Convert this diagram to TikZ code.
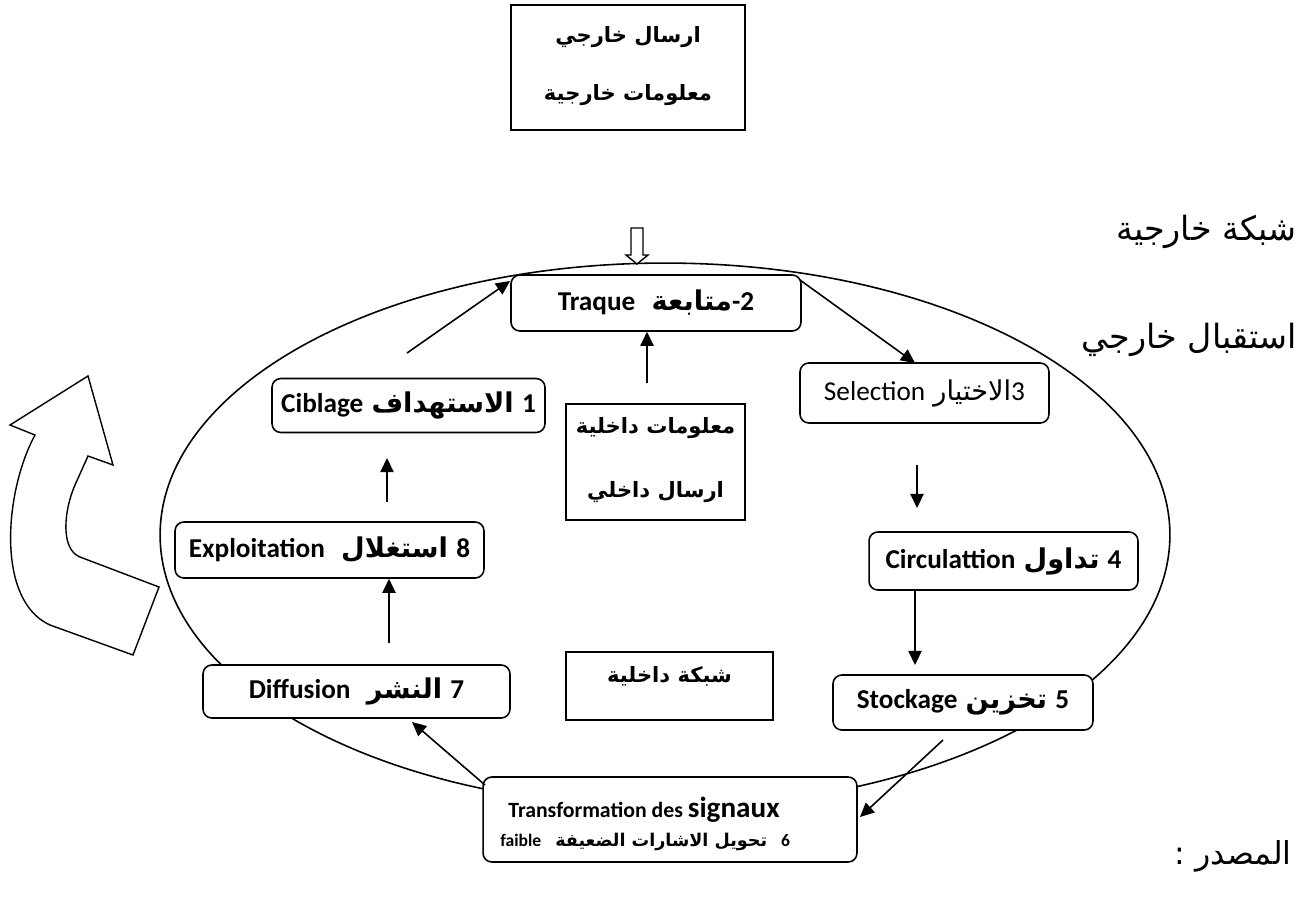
\documentclass[tikz,border=0pt]{standalone}
\usepackage{fontspec}
\usetikzlibrary{arrows.meta}
\TeXXeTstate=1
\newfontfamily\arabicfont[Script=Arabic]{DejaVu Sans}
\newfontfamily\calfont{Carlito}
\newcommand\arr[1]{{\arabicfont\beginR #1\endR}}
\newcommand\arb[1]{{\arabicfont\bfseries\beginR #1\endR}}
\newcommand\lb[1]{{\calfont\bfseries #1}}
\tikzset{
  sbox/.style={draw, line width=1.1pt, fill=white, inner sep=0pt},
  rbox/.style={draw, line width=0.9pt, rounded corners=5pt, fill=white, inner sep=0pt},
  boxtext/.style={inner sep=0pt, font=\fontsize{15.5}{18}\selectfont},
  artext/.style={inner sep=0pt, font=\fontsize{12}{14}\selectfont},
  outer/.style={inner sep=0pt, anchor=east, font=\fontsize{19}{22}\selectfont},
  conn/.style={line width=0.9pt, -{Triangle[length=8pt,width=7.5pt]}},
}
\begin{document}
\begin{tikzpicture}[x=0.02cm,y=-0.02cm]
\useasboundingbox (0,0) rectangle (1314,907);
\fill[white] (0,0) rectangle (1314,907);

% outer network
\draw[line width=0.9pt] (665,535) ellipse [x radius=10.1cm, y radius=5.44cm];

% external sending box
\node[sbox, minimum width=4.68cm, minimum height=2.5cm] (ext) at (628,67.5) {};
\node[artext] (extA) at (628,37) {\arb{ارسال خارجي}};
\node[artext] (extB) at (628,95) {\arb{معلومات خارجية}};

% hollow input arrow
\draw[line width=0.8pt, fill=white] (631,228) -- (643,228) -- (643,255) -- (648,255)
  -- (637,264) -- (626,255) -- (631,255) -- cycle;

% side labels
\node[outer] (extnet) at (1297,232) {\arr{شبكة خارجية}};
\node[outer] (extrec) at (1297,340) {\arr{استقبال خارجي}};
\node[outer, font=\fontsize{18}{21}\selectfont] (src) at (1292,856) {\arr{المصدر :}};

% curved feedback arrow
\draw[line width=0.8pt] (88,376) -- (10,425) -- (35,435)
  .. controls (5,490) and (-5,600) .. (50,625) -- (133,655) -- (159,587) -- (80,557)
  .. controls (60,549) and (64,510) .. (75,485) -- (88,456) -- (113,465) -- cycle;

% cycle steps
\node[rbox, minimum width=5.8cm, minimum height=1.12cm, boxtext] (n2) at (656,303)
  {\lb{Traque}\hspace{0.6em}\arb{متابعة}\lb{-2}};
\node[rbox, minimum width=4.98cm, minimum height=1.2cm, boxtext] (n3) at (924.5,393)
  {{\calfont Selection} \arr{الاختيار}{\calfont 3}};
\node[rbox, minimum width=5.46cm, minimum height=1.08cm, boxtext] (n1) at (408.5,405.5)
  {\lb{Ciblage} \arb{الاستهداف} \lb{1}};
\node[sbox, minimum width=3.58cm, minimum height=2.32cm] (inb) at (655.5,462) {};
\node[artext] (inbA) at (655.5,428) {\arb{معلومات داخلية}};
\node[artext] (inbB) at (655.5,492) {\arb{ارسال داخلي}};
\node[rbox, minimum width=6.18cm, minimum height=1.12cm, boxtext] (n8) at (329.5,550)
  {\lb{Exploitation}\hspace{0.6em}\arb{استغلال} \lb{8}};
\node[rbox, minimum width=5.38cm, minimum height=1.16cm, boxtext] (n4) at (1003.5,561)
  {\lb{Circulattion} \arb{تداول} \lb{4}};
\node[rbox, minimum width=6.14cm, minimum height=1.06cm, boxtext] (n7) at (356.5,691.5)
  {\lb{Diffusion}\hspace{0.6em}\arb{النشر} \lb{7}};
\node[sbox, minimum width=4.14cm, minimum height=1.36cm] (innet) at (669.5,686) {};
\node[artext] (innetA) at (669.5,676) {\arb{شبكة داخلية}};
\node[rbox, minimum width=5.2cm, minimum height=1.1cm, boxtext] (n5) at (963,702.5)
  {\lb{Stockage} \arb{تخزين} \lb{5}};
\node[rbox, minimum width=7.48cm, minimum height=1.7cm] (n6) at (670,819.5) {};
\node[inner sep=0pt, anchor=west] (n6a) at (508,810)
  {{\calfont\bfseries\fontsize{12.4}{15}\selectfont Transformation des }{\calfont\bfseries\fontsize{16.6}{18}\selectfont signaux}};
\node[inner sep=0pt, anchor=west, font=\fontsize{10}{12}\selectfont] (n6b) at (500,842)
  {\lb{faible}\hspace{0.8em}\arb{تحويل الاشارات الضعيفة}\hspace{0.8em}\lb{6}};

% connector end points
\coordinate (a1s) at (407,353);  \coordinate (a1e) at (510,281);
\coordinate (a2s) at (800,280);  \coordinate (a2e) at (915,363);
\coordinate (a3s) at (917,465);  \coordinate (a3e) at (917,508);
\coordinate (a4e) at (915,665);
\coordinate (a5s) at (943,740);  \coordinate (a5e) at (860,817);
\coordinate (a6s) at (485,785);  \coordinate (a6e) at (412,722);
\coordinate (a7s) at (389,643);
\coordinate (a8s) at (387,502);  \coordinate (a8e) at (387,458);
\coordinate (ains) at (647,383);

% connectors
\draw[conn] (ains) -- (ains |- n2.south);
\draw[conn] (a1s) -- (a1e);
\draw[conn] (a2s) -- (a2e);
\draw[conn] (a3s) -- (a3e);
\draw[conn] (n4.south -| a4e) -- (a4e);
\draw[conn] (a5s) -- (a5e);
\draw[conn] (a6s) -- (a6e);
\draw[conn] (a7s) -- (a7s |- n8.south);
\draw[conn] (a8s) -- (a8e);
\end{tikzpicture}
\end{document}
